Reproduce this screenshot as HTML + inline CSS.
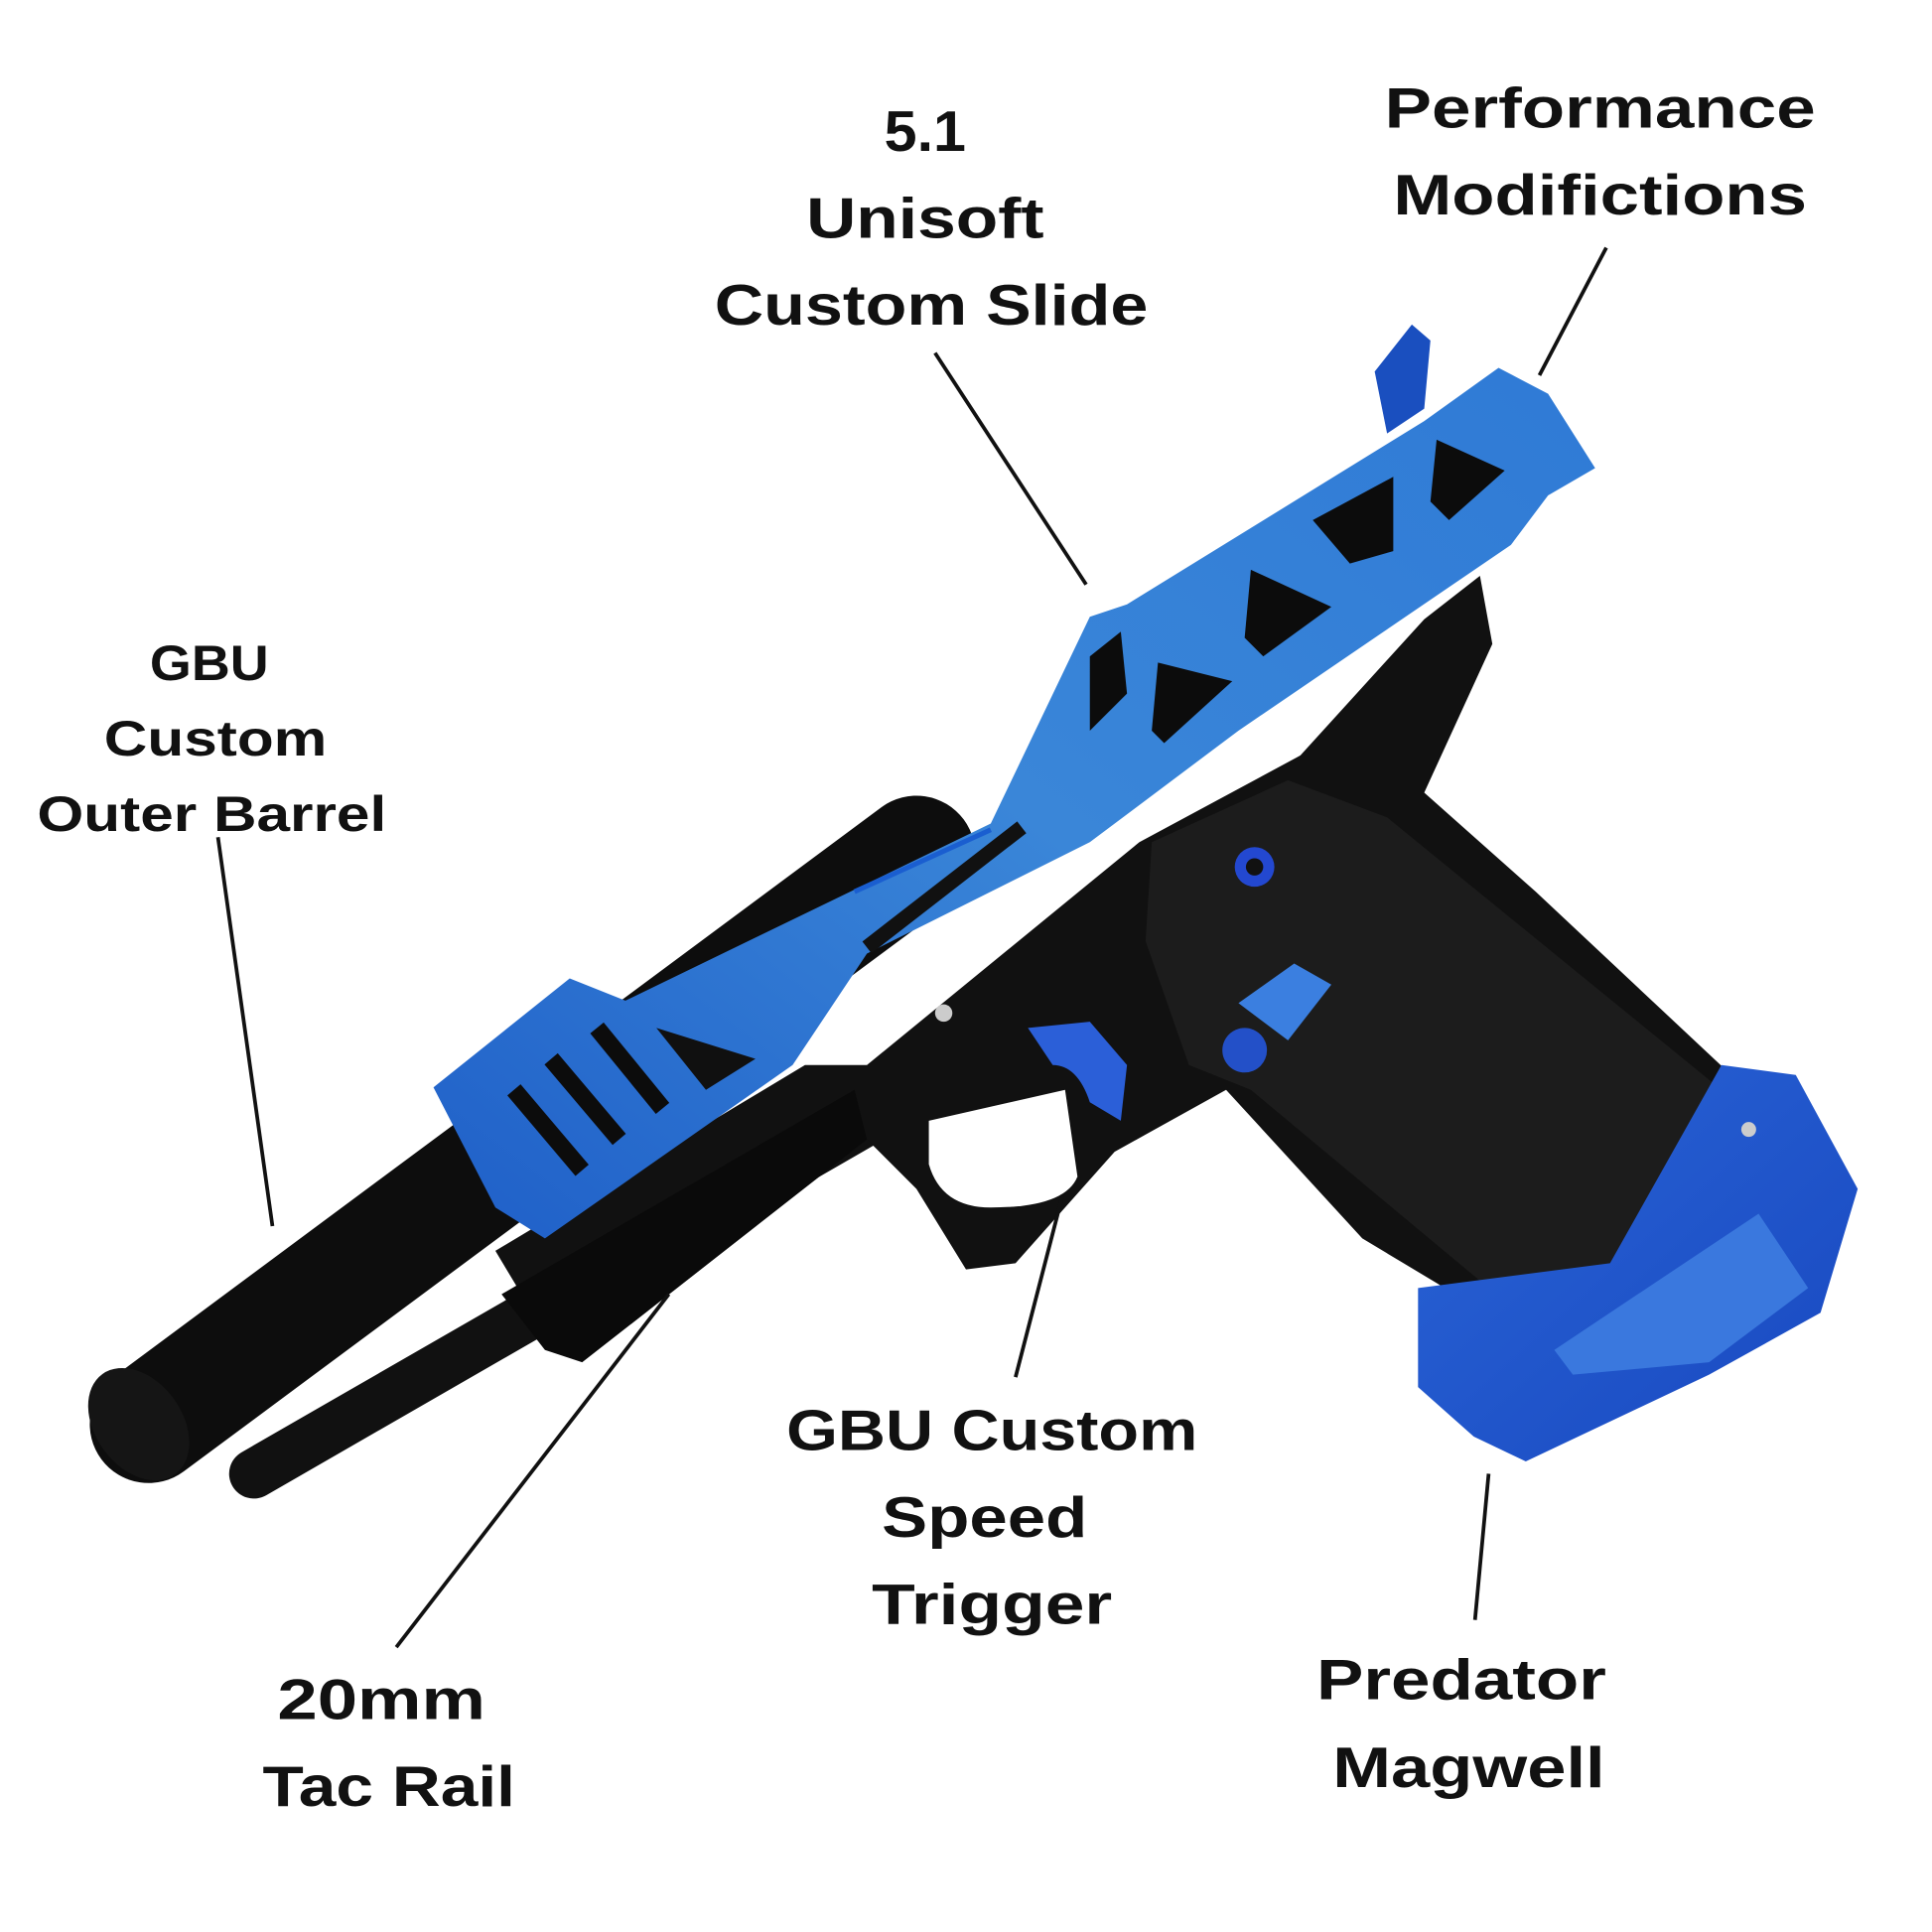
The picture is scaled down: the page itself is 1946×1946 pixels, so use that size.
<!DOCTYPE html>
<html><head><meta charset="utf-8"><style>
html,body{margin:0;padding:0;background:#fff;}
svg{display:block;}
text{font-family:"Liberation Sans",sans-serif;font-weight:bold;fill:#111;text-anchor:middle;}
</style></head><body>
<svg width="1946" height="1946" viewBox="0 0 1560 1560" xmlns="http://www.w3.org/2000/svg">
<defs>
<linearGradient id="bl" x1="0" y1="1" x2="1" y2="0">
<stop offset="0" stop-color="#1f5fc8"/><stop offset="0.5" stop-color="#3a86d8"/><stop offset="1" stop-color="#2f7ad6"/>
</linearGradient>
<linearGradient id="mg" x1="0" y1="0" x2="1" y2="1">
<stop offset="0" stop-color="#2a64d6"/><stop offset="1" stop-color="#1848c0"/>
</linearGradient>
</defs>
<!-- barrels -->
<line x1="120" y1="1150" x2="740" y2="690" stroke="#0d0d0d" stroke-width="95" stroke-linecap="round"/>
<ellipse cx="112" cy="1150" rx="35" ry="50" transform="rotate(-36 112 1150)" fill="#151515"/>
<line x1="205" y1="1190" x2="700" y2="905" stroke="#111" stroke-width="40" stroke-linecap="round"/>
<!-- frame + grip -->
<polygon fill="#111" points="700,860 920,680 1050,610 1150,500 1195,465 1205,520 1150,640 1240,720 1400,870 1390,1000 1300,1060 1250,1090 1100,1000 990,880 900,930 820,1020 780,1025 740,960 700,920 470,1100 430,1060 400,1010 650,860"/>
<polygon fill="#1c1c1c" points="930,680 1040,630 1120,660 1390,880 1380,1000 1300,1055 1250,1080 1010,880 960,860 925,760"/>
<!-- trigger guard hole -->
<path d="M750,905 L860,880 L870,950 Q860,975 800,975 Q760,975 750,940 Z" fill="#fff"/>
<!-- rail -->
<polygon fill="#0a0a0a" points="405,1045 690,880 700,920 470,1100 440,1090"/>
<!-- slide -->
<polygon fill="url(#bl)" points="350,878 460,790 505,808 800,665 880,498 910,488 1150,340 1210,297 1250,318 1288,378 1250,400 1220,440 1000,590 880,680 700,770 640,860 440,1000 400,975"/>
<polygon fill="#1a4fbf" points="1110,300 1140,262 1155,275 1150,330 1120,350"/>
<!-- slide cutouts -->
<polygon fill="#0c0c0c" points="1160,355 1215,380 1170,420 1155,405"/>
<polygon fill="#0c0c0c" points="1060,420 1125,385 1125,445 1090,455"/>
<polygon fill="#0c0c0c" points="1010,460 1075,490 1020,530 1005,515"/>
<polygon fill="#0c0c0c" points="935,535 995,550 940,600 930,590"/>
<polygon fill="#0c0c0c" points="880,530 905,510 910,560 880,590"/>
<line x1="700" y1="765" x2="825" y2="668" stroke="#111" stroke-width="12"/>
<line x1="690" y1="720" x2="800" y2="670" stroke="#1a5ed0" stroke-width="4"/>
<polygon fill="#101010" points="530,830 610,855 570,880"/>
<line x1="415" y1="880" x2="470" y2="945" stroke="#0c0c0c" stroke-width="14"/>
<line x1="445" y1="855" x2="500" y2="920" stroke="#0c0c0c" stroke-width="14"/>
<line x1="482" y1="830" x2="535" y2="895" stroke="#0c0c0c" stroke-width="14"/>
<!-- trigger -->
<path d="M830,830 L880,825 L910,860 L905,905 L880,890 Q870,860 850,860 Z" fill="#2b5fd8"/>
<!-- buttons -->
<circle cx="1013" cy="700" r="16" fill="#2348d0"/><circle cx="1013" cy="700" r="7" fill="#111"/>
<polygon fill="#3b7fe0" points="1000,810 1045,778 1075,795 1040,840"/>
<circle cx="1005" cy="848" r="18" fill="#2350c8"/>
<circle cx="762" cy="818" r="7" fill="#ccc"/>
<!-- magwell -->
<polygon fill="url(#mg)" points="1145,1040 1300,1020 1390,860 1450,868 1500,960 1470,1060 1380,1110 1232,1180 1190,1160 1145,1120"/>
<polygon fill="#3a78de" points="1255,1090 1420,980 1460,1040 1380,1100 1270,1110"/>
<circle cx="1412" cy="912" r="6" fill="#ccc"/>
<!-- leader lines -->
<g stroke="#111" stroke-width="3">
<line x1="755" y1="285" x2="877" y2="472"/>
<line x1="1297" y1="200" x2="1243" y2="303"/>
<line x1="176" y1="676" x2="220" y2="990"/>
<line x1="540" y1="1045" x2="320" y2="1330"/>
<line x1="858" y1="965" x2="820" y2="1112"/>
<line x1="1202" y1="1190" x2="1191" y2="1308"/>
</g>
<!-- labels -->
<g font-size="46">
<text x="747" y="122" textLength="66" lengthAdjust="spacingAndGlyphs">5.1</text>
<text x="747" y="192" textLength="192" lengthAdjust="spacingAndGlyphs">Unisoft</text>
<text x="752" y="262" textLength="350" lengthAdjust="spacingAndGlyphs">Custom Slide</text>
<text x="1292" y="103" textLength="348" lengthAdjust="spacingAndGlyphs">Performance</text>
<text x="1292" y="173" textLength="334" lengthAdjust="spacingAndGlyphs">Modifictions</text>
<text x="801" y="1171" textLength="332" lengthAdjust="spacingAndGlyphs">GBU Custom</text>
<text x="795" y="1241" textLength="166" lengthAdjust="spacingAndGlyphs">Speed</text>
<text x="801" y="1311" textLength="194" lengthAdjust="spacingAndGlyphs">Trigger</text>
<text x="308" y="1388" textLength="168" lengthAdjust="spacingAndGlyphs">20mm</text>
<text x="314" y="1458" textLength="204" lengthAdjust="spacingAndGlyphs">Tac Rail</text>
<text x="1180" y="1372" textLength="234" lengthAdjust="spacingAndGlyphs">Predator</text>
<text x="1186" y="1443" textLength="220" lengthAdjust="spacingAndGlyphs">Magwell</text>
</g>
<g font-size="40">
<text x="169" y="549" textLength="96" lengthAdjust="spacingAndGlyphs">GBU</text>
<text x="174" y="610" textLength="180" lengthAdjust="spacingAndGlyphs">Custom</text>
<text x="171" y="671" textLength="282" lengthAdjust="spacingAndGlyphs">Outer Barrel</text>
</g>
</svg>
</body></html>
